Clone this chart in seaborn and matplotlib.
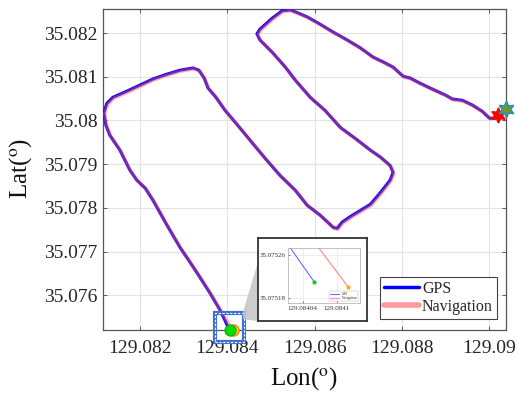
import matplotlib
matplotlib.use("Agg")
import pandas as pd
import matplotlib.pyplot as plt
from matplotlib.patches import Rectangle, Polygon
import seaborn as sns

# Trajetoria GPS (lon, lat)
gps_lon = [129.08406, 129.08402, 129.08384, 129.08361, 129.08338, 129.08315, 129.08292, 129.08262, 129.0823, 129.08212,
           129.08193, 129.08177, 129.08154, 129.08131, 129.08122, 129.08117, 129.08124, 129.08138, 129.0817, 129.082,
           129.0823, 129.08262, 129.08292, 129.08322, 129.08335, 129.08347, 129.08356, 129.08374, 129.08395, 129.08418,
           129.08452, 129.08487, 129.08521, 129.08556, 129.08583, 129.08613, 129.08643, 129.08652, 129.08663, 129.08682,
           129.08705, 129.08728, 129.08751, 129.08773, 129.0878, 129.08773, 129.08751, 129.08728, 129.08693, 129.08659,
           129.08624, 129.0859, 129.08556, 129.08533, 129.08503, 129.08475, 129.08468, 129.08475, 129.08503, 129.08526,
           129.08544, 129.08562, 129.08583, 129.08608, 129.08643, 129.08675, 129.08705, 129.08734, 129.08757, 129.0878,
           129.08803, 129.08819, 129.08842, 129.08865, 129.089, 129.08916, 129.08939, 129.08962, 129.08984, 129.09001, 129.09014]
gps_lat = [35.07521, 35.07527, 35.07565, 35.07604, 35.0764, 35.07675, 35.07709, 35.0776, 35.07817, 35.07845,
           35.07863, 35.07886, 35.07932, 35.07966, 35.07989, 35.08017, 35.08039, 35.08053, 35.08067, 35.08081,
           35.08095, 35.08106, 35.08115, 35.0812, 35.08115, 35.08097, 35.08074, 35.08053, 35.08023, 35.07996,
           35.07955, 35.07913, 35.07874, 35.0784, 35.07806, 35.07783, 35.07755, 35.07753, 35.07767, 35.0778,
           35.07794, 35.07808, 35.07835, 35.07863, 35.07881, 35.07897, 35.07916, 35.07932, 35.07959, 35.07984,
           35.08023, 35.08053, 35.08092, 35.08122, 35.08156, 35.08184, 35.08198, 35.08209, 35.08234, 35.08251,
           35.08253, 35.08246, 35.08237, 35.08223, 35.08202, 35.08184, 35.08166, 35.08145, 35.08134, 35.08122,
           35.08101, 35.08097, 35.08085, 35.08074, 35.08058, 35.08049, 35.08046, 35.08035, 35.08021, 35.08005, 35.08005]

# Trajetoria de navegacao (lon, lat)
nav_lon = [129.08412, 129.08407, 129.08386, 129.08363, 129.0834, 129.08317, 129.08294, 129.08264, 129.08232, 129.08214,
           129.08195, 129.08179, 129.08156, 129.08133, 129.08124, 129.08119, 129.08126, 129.0814, 129.08172, 129.08202,
           129.08232, 129.08264, 129.08294, 129.08324, 129.08337, 129.08349, 129.08358, 129.08376, 129.08397, 129.0842,
           129.08454, 129.08489, 129.08523, 129.08558, 129.08585, 129.08615, 129.08645, 129.08654, 129.08665, 129.08684,
           129.08707, 129.0873, 129.08753, 129.08775, 129.08782, 129.08775, 129.08753, 129.0873, 129.08695, 129.08661,
           129.08626, 129.08592, 129.08558, 129.08535, 129.08505, 129.08477, 129.0847, 129.08477, 129.08505, 129.08528,
           129.08546, 129.08564, 129.08585, 129.0861, 129.08645, 129.08677, 129.08707, 129.08736, 129.08759, 129.08782,
           129.08805, 129.08821, 129.08844, 129.08867, 129.08902, 129.08918, 129.08941, 129.08964, 129.08986, 129.09003, 129.09021]
nav_lat = [35.0752, 35.07527, 35.07563, 35.07602, 35.07638, 35.07673, 35.07707, 35.07758, 35.07815, 35.07843,
           35.07861, 35.07884, 35.0793, 35.07964, 35.07987, 35.08015, 35.08037, 35.08051, 35.08065, 35.08079,
           35.08093, 35.08104, 35.08113, 35.08118, 35.08113, 35.08095, 35.08072, 35.08051, 35.08021, 35.07994,
           35.07953, 35.07911, 35.07872, 35.07838, 35.07804, 35.07781, 35.07753, 35.07751, 35.07765, 35.07778,
           35.07792, 35.07806, 35.07833, 35.07861, 35.07879, 35.07895, 35.07914, 35.0793, 35.07957, 35.07982,
           35.08021, 35.08051, 35.0809, 35.0812, 35.08154, 35.08182, 35.08196, 35.08207, 35.08232, 35.08249,
           35.08251, 35.08244, 35.08235, 35.08221, 35.082, 35.08182, 35.08164, 35.08143, 35.08132, 35.0812,
           35.08099, 35.08095, 35.08083, 35.08072, 35.08056, 35.08047, 35.08044, 35.08033, 35.08019, 35.08003, 35.08012]

# Pontos de inicio e fim
gps_start = (129.08406, 35.07521)
nav_start = (129.08412, 35.0752)
nav_end = (129.09021, 35.08012)
gps_end = (129.09039, 35.08026)

# Eixos e rotulos
x_ticks = [129.082, 129.084, 129.086, 129.088, 129.09]
x_tick_labels = ["129.082", "129.084", "129.086", "129.088", "129.09"]
y_ticks = [35.076, 35.077, 35.078, 35.079, 35.08, 35.081, 35.082]
y_tick_labels = ["35.076", "35.077", "35.078", "35.079", "35.08", "35.081", "35.082"]
x_lim = (129.08115, 129.09039)
y_lim = (35.0752, 35.08254)

# Zoom
zoom_box = (129.08372, 129.08439, 35.07494, 35.0756)
zoom_x_ticks = [129.08404, 129.0841]
zoom_x_labels = ["129.08404", "129.0841"]
zoom_y_ticks = [35.07518, 35.07526]
zoom_y_labels = ["35.07518", "35.07526"]
zoom_xlim = (129.084014, 129.08414)
zoom_ylim = (35.075171, 35.075273)

df_gps = pd.DataFrame({"lon": gps_lon, "lat": gps_lat})
df_nav = pd.DataFrame({"lon": nav_lon, "lat": nav_lat})

sns.set_theme(style="whitegrid")
plt.rcParams["font.family"] = ["Liberation Serif", "DejaVu Serif"]
plt.rcParams["mathtext.fontset"] = "stix"

fig = plt.figure(figsize=(5.17, 3.94), dpi=100)
ax = fig.add_axes([0.199, 0.162, 0.780, 0.814])

gps_color = "#0000ff"
nav_color = "#ff5a5a"

# GPS por baixo, navegacao semi-transparente por cima (da o tom roxo)
sns.lineplot(data=df_gps, x="lon", y="lat", sort=False, estimator=None, ax=ax,
             color=gps_color, lw=2.2, label="GPS", zorder=3)
sns.lineplot(data=df_nav, x="lon", y="lat", sort=False, estimator=None, ax=ax,
             color=nav_color, lw=2.6, alpha=0.45, label="Navigation", zorder=4)

ax.plot(*nav_start, "o", ms=8, mfc="#ffd000", mec="#ff7f00", mew=1, zorder=6, clip_on=False)
ax.plot(*gps_start, "o", ms=8, mfc="#00e000", mec="#20a020", mew=0.8, zorder=7, clip_on=False)
ax.plot(*nav_end, marker=(6, 1, 0), ms=11, mfc="#ff0000", mec="#ff0000", zorder=6, clip_on=False)
ax.plot(*gps_end, marker=(6, 1, 0), ms=12, mfc="#6b9a2a", mec="#1f8fd0", mew=1, zorder=7, clip_on=False)

# Retangulo de zoom
zx0, zx1, zy0, zy1 = zoom_box
ax.add_patch(Rectangle((zx0, zy0), zx1 - zx0, zy1 - zy0, fill=False, ec="#3f6fd0", lw=3,
                       clip_on=False, zorder=8))
ax.add_patch(Rectangle((zx0, zy0), zx1 - zx0, zy1 - zy0, fill=False, ec="white", lw=0.8,
                       ls=(0, (2, 1.5)), clip_on=False, zorder=9))

ax.set_xlim(x_lim)
ax.set_ylim(y_lim)
ax.set_xticks(x_ticks)
ax.set_xticklabels(x_tick_labels)
ax.set_yticks(y_ticks)
ax.set_yticklabels(y_tick_labels)
ax.tick_params(direction="in", top=True, right=True, bottom=True, left=True, length=3, width=0.6,
               labelsize=14, labelcolor="#262626", color="#444444")
ax.tick_params(axis="x", pad=7)
ax.tick_params(axis="y", pad=4)
ax.grid(True, color="#e3e3e3", lw=0.8)
for s in ax.spines.values():
    s.set_color("#555555")
    s.set_linewidth(0.9)

ax.set_xlabel("Lon($^{\\mathrm{o}}$)", fontsize=18, color="#111111")
ax.set_ylabel("Lat($^{\\mathrm{o}}$)", fontsize=18, color="#111111")
ax.xaxis.set_label_coords(0.5, -0.11)
ax.yaxis.set_label_coords(-0.172, 0.505)

handles, labels = ax.get_legend_handles_labels()
leg = ax.legend(handles, labels, loc="lower right", bbox_to_anchor=(0.985, 0.025), fontsize=11.5,
                handlelength=2.2, handletextpad=0.2, borderpad=0.25, borderaxespad=0.2,
                labelspacing=0.15, fancybox=False, framealpha=1, edgecolor="#444444")
leg.get_frame().set_linewidth(0.8)
leg.legend_handles[0].set_linewidth(2.5)
leg.legend_handles[1].set_alpha(1)
leg.legend_handles[1].set_linewidth(4)
leg.legend_handles[1].set_color("#ff9a9a")

# Sombra ligando o zoom ao quadro ampliado
fig.add_artist(Polygon([(0.470, 0.208), (0.499, 0.335), (0.499, 0.185), (0.470, 0.190)],
                       closed=True, transform=fig.transFigure, fc="#c4c4c4", ec="none",
                       alpha=0.85, zorder=1))

# Quadro ampliado
box = fig.add_axes([0.499, 0.185, 0.211, 0.211], zorder=2)
box.set_xticks([])
box.set_yticks([])
box.set_facecolor("white")
box.grid(False)
for s in box.spines.values():
    s.set_color("#333333")
    s.set_linewidth(1.3)

axz = fig.add_axes([0.557, 0.231, 0.139, 0.140], zorder=3)
sns.lineplot(data=df_gps, x="lon", y="lat", sort=False, estimator=None, ax=axz,
             color="#6070ff", lw=0.8, label="GPS")
sns.lineplot(data=df_nav, x="lon", y="lat", sort=False, estimator=None, ax=axz,
             color="#ff9a9a", lw=1, label="Navigation")
axz.plot(*gps_start, "o", ms=2, color="#20c020")
axz.plot(*nav_start, "o", ms=2, color="#ffb000")
axz.set_xlim(zoom_xlim)
axz.set_ylim(zoom_ylim)
axz.set_xticks(zoom_x_ticks)
axz.set_xticklabels(zoom_x_labels)
axz.set_yticks(zoom_y_ticks)
axz.set_yticklabels(zoom_y_labels)
axz.set_xlabel("")
axz.set_ylabel("")
axz.tick_params(direction="in", length=1.5, width=0.4, labelsize=5, pad=2,
                bottom=True, left=True, labelcolor="#333333")
axz.grid(True, color="#e6e6e6", lw=0.5)
for s in axz.spines.values():
    s.set_color("#aaaaaa")
    s.set_linewidth(0.5)
legz = axz.legend(loc="lower right", fontsize=2.5, handlelength=2.5, borderpad=0.3,
                  labelspacing=0.1, fancybox=False, framealpha=1, edgecolor="#aaaaaa")
legz.get_frame().set_linewidth(0.3)

fig.savefig("out.png", dpi=100)
